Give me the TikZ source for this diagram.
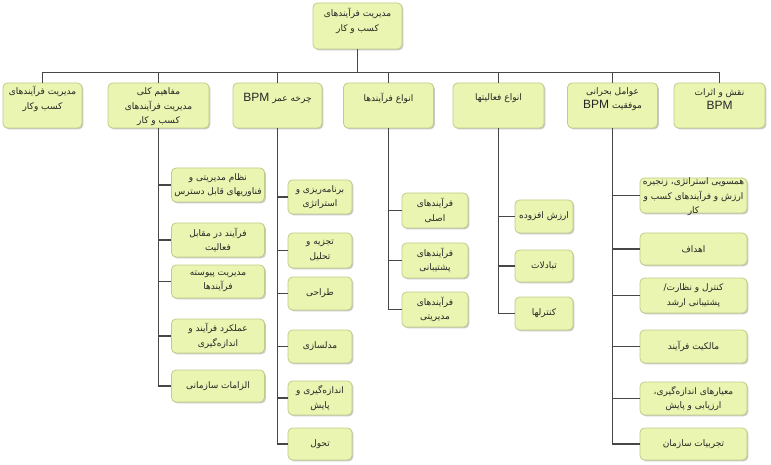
\documentclass[tikz,border=0pt]{standalone}
\usepackage{fontspec}
\usetikzlibrary{shadows}
\TeXXeTstate=1
\newfontfamily\arabicfont[Script=Arabic]{DejaVu Sans}
\newfontfamily\latinfont{Liberation Sans}
\newcommand{\fa}[1]{{\arabicfont\beginR #1\endR}}
\newcommand{\bpmtxt}{{\latinfont\fontsize{12}{13}\selectfont\beginL BPM\endL}}
\definecolor{boxfill}{HTML}{E9F5B1}
\definecolor{boxline}{HTML}{BCCF8A}
\definecolor{linecol}{HTML}{474747}
\definecolor{txtcol}{HTML}{262626}
\newcommand{\bx}[5]{\node[box,minimum width=#4pt,minimum height=#5pt] (#1) at (#2,#3) {};}
\newcommand{\tx}[4]{\node[txt] (#1) at (#2,#3) {#4};}
\tikzset{
  box/.style={draw=boxline, fill=boxfill, line width=0.8pt, rounded corners=4.5pt, inner sep=0pt,
    drop shadow={shadow xshift=1.3pt, shadow yshift=-1.3pt, opacity=0.35, fill=black!60}},
  txt/.style={align=center, inner sep=0pt, text=txtcol, font=\fontsize{9}{14.5}\selectfont},
  conn/.style={draw=linecol, line width=1.5pt}
}
\begin{document}
\begin{tikzpicture}[x=1pt,y=-1pt]
\useasboundingbox (0,0) rectangle (771,465);
\fill[white] (0,0) rectangle (771,465);
% root and top level
\bx{root}{357.5}{26}{89}{46}
\bx{t1}{42.5}{105.5}{79}{45}
\bx{t2}{158.5}{105.5}{101}{45}
\bx{t3}{277.5}{105.5}{89}{45}
\bx{t4}{388.5}{105.5}{90}{45}
\bx{t5}{498.5}{105.5}{91}{45}
\bx{t6}{612.5}{105.5}{90}{45}
\bx{t7}{719.5}{105.5}{91}{45}
% column 2
\bx{c21}{218}{185}{93}{34}
\bx{c22}{218}{240}{93}{34}
\bx{c23}{218}{281.5}{93}{33}
\bx{c24}{218}{336}{93}{34}
\bx{c25}{218}{386}{93}{32}
% column 3
\bx{c31}{320}{197}{64}{34}
\bx{c32}{320}{250.5}{64}{35}
\bx{c33}{320}{293.5}{64}{33}
\bx{c34}{320}{346.5}{64}{33}
\bx{c35}{320}{398}{64}{34}
\bx{c36}{320}{444}{64}{32}
% column 4
\bx{c41}{435}{210.5}{66}{35}
\bx{c42}{435}{260.5}{66}{35}
\bx{c43}{435}{309.5}{66}{35}
% column 5
\bx{c51}{544}{216.5}{58}{33}
\bx{c52}{544}{266}{58}{32}
\bx{c53}{544}{313.5}{58}{33}
% column 6
\bx{c61}{693.5}{195.5}{107}{35}
\bx{c62}{693.5}{249}{107}{32}
\bx{c63}{693.5}{295.5}{107}{35}
\bx{c64}{693.5}{346.5}{107}{33}
\bx{c65}{693.5}{398.5}{107}{33}
\bx{c66}{693.5}{444}{107}{32}
% connectors
\coordinate (bus) at (357.5,72.5);
\draw[conn] (root.south) -- (bus);
\draw[conn] (t1.north) |- (t7.north |- bus) -- (t7.north);
\foreach \t in {t2,t3,t4,t5,t6} \draw[conn] (\t.north |- bus) -- (\t.north);
\draw[conn] (t2.south) |- (c25.west);
\foreach \c in {c21,c22,c23,c24} \draw[conn] (\c.west -| t2.south) -- (\c.west);
\draw[conn] (t3.south) |- (c36.west);
\foreach \c in {c31,c32,c33,c34,c35} \draw[conn] (\c.west -| t3.south) -- (\c.west);
\draw[conn] (t4.south) |- (c43.west);
\foreach \c in {c41,c42} \draw[conn] (\c.west -| t4.south) -- (\c.west);
\draw[conn] (t5.south) |- (c53.west);
\foreach \c in {c51,c52} \draw[conn] (\c.west -| t5.south) -- (\c.west);
\draw[conn] (t6.south) |- (c66.west);
\foreach \c in {c61,c62,c63,c64,c65} \draw[conn] (\c.west -| t6.south) -- (\c.west);
% texts
\tx{xroot}{357.5}{21}{\fa{مدیریت فرآیندهای}\\\fa{کسب و کار}}
\tx{xt1}{42.5}{99}{\fa{مدیریت فرآیندهای}\\\fa{کسب وکار}}
\tx{xt2}{158.5}{107}{\fa{مفاهیم کلی}\\\fa{مدیریت فرآیندهای}\\\fa{کسب و کار}}
\tx{xt3}{277.5}{98}{\fa{چرخه عمر \bpmtxt}}
\tx{xt4}{388.5}{98}{\fa{انواع فرآیندها}}
\tx{xt5}{498.5}{98}{\fa{انواع فعالیتها}}
\tx{xt6}{612.5}{99}{\fa{عوامل بحرانی}\\\fa{موفقیت \bpmtxt}}
\tx{xt7}{719.5}{99}{\fa{نقش و اثرات}\\\bpmtxt}
\tx{x21}{218}{185}{\fa{نظام مدیریتی و}\\\fa{فناوریهای قابل دسترس}}
\tx{x22}{218}{240}{\fa{فرآیند در مقابل}\\\fa{فعالیت}}
\tx{x23}{218}{281.5}{\fa{مدیریت پیوسته}\\\fa{فرآیندها}}
\tx{x24}{218}{336}{\fa{عملکرد فرآیند و}\\\fa{اندازه‌گیری}}
\tx{x25}{218}{386}{\fa{الزامات سازمانی}}
\tx{x31}{320}{197}{\fa{برنامه‌ریزی و}\\\fa{استراتژی}}
\tx{x32}{320}{250.5}{\fa{تجزیه و}\\\fa{تحلیل}}
\tx{x33}{320}{293.5}{\fa{طراحی}}
\tx{x34}{320}{346.5}{\fa{مدلسازی}}
\tx{x35}{320}{398}{\fa{اندازه‌گیری و}\\\fa{پایش}}
\tx{x36}{320}{444}{\fa{تحول}}
\tx{x41}{435}{210.5}{\fa{فرآیندهای}\\\fa{اصلی}}
\tx{x42}{435}{260.5}{\fa{فرآیندهای}\\\fa{پشتیبانی}}
\tx{x43}{435}{309.5}{\fa{فرآیندهای}\\\fa{مدیریتی}}
\tx{x51}{544}{216.5}{\fa{ارزش افزوده}}
\tx{x52}{544}{266}{\fa{تبادلات}}
\tx{x53}{544}{313.5}{\fa{کنترلها}}
\tx{x61}{693.5}{197}{\fa{همسویی استراتژی، زنجیره}\\\fa{ارزش و فرآیندهای کسب و}\\\fa{کار}}
\tx{x62}{693.5}{249}{\fa{اهداف}}
\tx{x63}{693.5}{295.5}{\fa{کنترل و نظارت/}\\\fa{پشتیبانی ارشد}}
\tx{x64}{693.5}{346.5}{\fa{مالکیت فرآیند}}
\tx{x65}{693.5}{398.5}{\fa{معیارهای اندازه‌گیری،}\\\fa{ارزیابی و پایش}}
\tx{x66}{693.5}{444}{\fa{تجربیات سازمان}}
\end{tikzpicture}
\end{document}
